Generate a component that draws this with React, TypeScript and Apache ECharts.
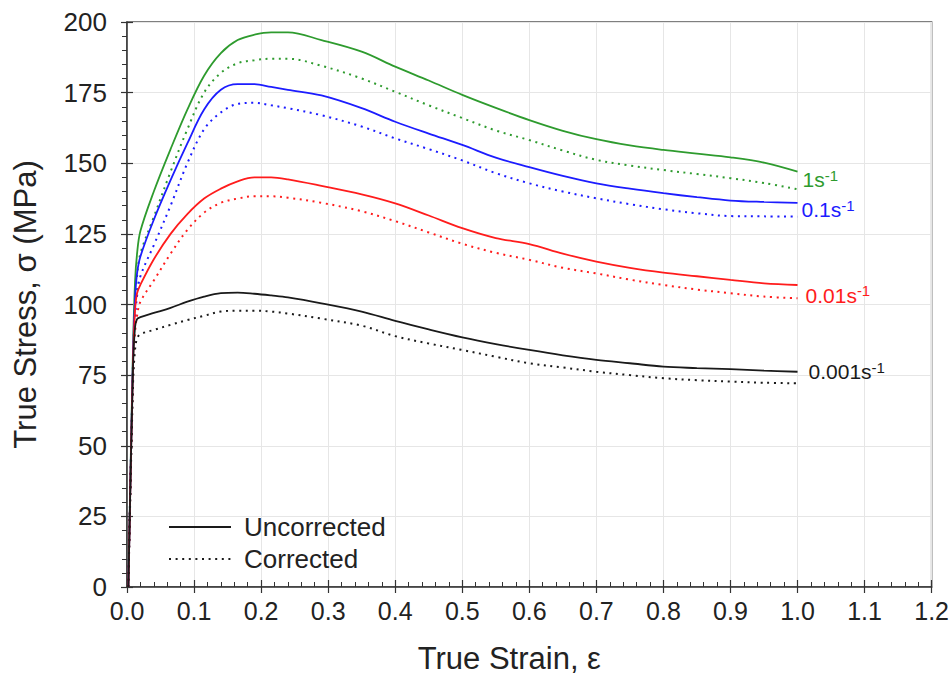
import React, { useEffect, useRef } from "react";
import * as echarts from "echarts";

const strain = [0.002, 0.009, 0.012, 0.015, 0.02, 0.04, 0.065, 0.09, 0.115, 0.14, 0.165, 0.19, 0.215, 0.24, 0.29, 0.35, 0.4, 0.45, 0.5, 0.55, 0.6, 0.65, 0.7, 0.75, 0.8, 0.85, 0.9, 0.95, 1.0];

const rate1Uncorrected = [0, 85, 108, 118, 126, 140, 155, 169, 181, 189, 193.6, 195.5, 196.3, 196.3, 193.6, 189.5, 184.2, 179.3, 174.2, 169.6, 165.3, 161.5, 158.5, 156.3, 154.7, 153.4, 152.1, 150.2, 147];
const rate1Corrected = [0, 80, 100, 110, 118, 131, 147, 162, 175, 182, 185.4, 186.5, 187, 187, 184.5, 180, 175.3, 170.5, 166, 161.6, 158.2, 154.5, 151.2, 149.2, 147.6, 146.2, 144.7, 143, 140.8];
const rate01Uncorrected = [0, 82, 102, 111, 117, 130, 144, 157, 169, 176, 178, 178, 177, 176, 174, 169.5, 164.7, 160.5, 156.5, 152, 148.6, 145.5, 142.9, 141, 139.4, 138, 136.8, 136.3, 136];
const rate01Corrected = [0, 78, 95, 103, 110, 121, 135, 150, 162, 168, 171, 171.4, 170.5, 169.5, 167, 163, 158.8, 155, 151, 146.5, 142.9, 140, 137.6, 135.5, 133.7, 132.3, 131.3, 131.2, 131.1];
const rate001Uncorrected = [0, 80, 98, 104, 107, 116, 125, 132, 137.5, 141, 143.6, 145, 145, 144.3, 142, 139, 135.8, 131.5, 127, 123.5, 121.4, 118, 115.2, 113, 111.3, 110, 108.7, 107.5, 106.9];
const rate001Corrected = [0, 75, 90, 96, 101, 108.5, 118, 126.4, 132.5, 136, 137.5, 138.3, 138.3, 137.8, 136, 133, 129.5, 125.5, 121.5, 118.3, 115.8, 113, 111, 108.8, 106.9, 105.3, 104, 102.8, 102.2];
const rate0001Uncorrected = [0, 78, 92, 94.8, 95.5, 97, 98.8, 101, 102.8, 104, 104.2, 103.8, 103.2, 102.5, 100.4, 97.5, 94.2, 91.2, 88.4, 86, 83.9, 82, 80.4, 79.2, 78, 77.5, 77.1, 76.6, 76.2];
const rate0001Corrected = [0, 72, 84, 88, 89.5, 91, 92.8, 94.5, 96, 97.5, 97.8, 97.8, 97.5, 96.8, 95, 92.5, 88.8, 86.2, 83.9, 81.5, 79.2, 77.7, 76.2, 75, 73.9, 73.2, 72.7, 72.3, 72.1];

const rateLabels = ["1", "0.1", "0.01", "0.001"];
const legendNames = ["Uncorrected", "Corrected"];
const xTicks = { min: 0, max: 1.2, interval: 0.1 };
const yTicks = { min: 0, max: 200, interval: 25 };

const FONT = "Liberation Sans, Arial, sans-serif";
const GREEN = "#2e9b2e";
const BLUE = "#1c1cff";
const RED = "#ff1c1c";
const BLACK = "#1a1a1a";

function pair(vals: number[]) {
  return strain.map((s, i) => [s, vals[i]]);
}

export default function App() {
  const ref = useRef<HTMLDivElement>(null);
  useEffect(() => {
    if (!ref.current) return;
    const chart = echarts.init(ref.current, undefined, { renderer: "svg" });

    const dotted = [2, 4.6];
    const mk = (name: string, vals: number[], color: string, isDotted: boolean, label?: { text: string; off: [number, number] }) => {
      const s: any = {
        name,
        type: "line",
        data: pair(vals),
        symbol: "none",
        smooth: 0.35,
        xAxisIndex: 0,
        yAxisIndex: 0,
        lineStyle: { color, width: isDotted ? 2 : 1.8, type: isDotted ? dotted : "solid" },
        itemStyle: { color },
        z: 5,
      };
      if (label) {
        s.endLabel = {
          show: true,
          distance: 5,
          offset: label.off,
          formatter: () => `{a|${label.text}s}{b|-1}`,
          rich: {
            a: { fontFamily: FONT, fontSize: 21, color, lineHeight: 24 },
            b: { fontFamily: FONT, fontSize: 15, color, verticalAlign: "top", lineHeight: 15, padding: [0, 0, 10, 0] },
          },
        };
      }
      return s;
    };

    const series: any[] = [
      mk("s1u", rate1Uncorrected, GREEN, false, { text: rateLabels[0], off: [0, 8] }),
      mk("s1c", rate1Corrected, GREEN, true),
      mk("s01u", rate01Uncorrected, BLUE, false, { text: rateLabels[1], off: [-1, 7] }),
      mk("s01c", rate01Corrected, BLUE, true),
      mk("s001u", rate001Uncorrected, RED, false, { text: rateLabels[2], off: [3, 10] }),
      mk("s001c", rate001Corrected, RED, true),
      mk("s0001u", rate0001Uncorrected, BLACK, false, { text: rateLabels[3], off: [6, 0] }),
      mk("s0001c", rate0001Corrected, BLACK, true),
      {
        name: legendNames[0],
        type: "line",
        data: [],
        symbol: "none",
        lineStyle: { color: BLACK, width: 1.8, type: "solid" },
        itemStyle: { color: BLACK, opacity: 0 },
      },
      {
        name: legendNames[1],
        type: "line",
        data: [],
        symbol: "none",
        lineStyle: { color: BLACK, width: 2, type: dotted },
        itemStyle: { color: BLACK, opacity: 0 },
      },
    ];

    const axisColor = "#333";
    chart.setOption({
      animation: false,
      backgroundColor: "#fff",
      textStyle: { fontFamily: FONT },
      grid: { left: 127, right: 20, top: 22, bottom: 109, show: true, borderColor: "#555", borderWidth: 1.5, backgroundColor: "transparent" },
      legend: {
        data: legendNames,
        orient: "vertical",
        left: 163,
        top: 509,
        itemWidth: 62,
        itemHeight: 14,
        itemGap: 6,
        itemStyle: { opacity: 0 },
        textStyle: { fontFamily: FONT, fontSize: 26, color: "#222", padding: [0, 0, 0, 8] },
      },
      xAxis: [
        {
          type: "value",
          ...xTicks,
          position: "bottom",
          name: "True Strain, ε",
          nameLocation: "middle",
          nameGap: 56,
          nameTextStyle: { fontFamily: FONT, fontSize: 31, color: "#222", padding: [0, 40, 0, 0] },
          axisLine: { show: true, onZero: false, lineStyle: { color: axisColor, width: 1.5 } },
          axisTick: { show: true, inside: true, length: 7, lineStyle: { color: axisColor, width: 1.2 } },
          minorTick: { show: true, splitNumber: 5, length: 5, lineStyle: { color: axisColor, width: 1 } },
          axisLabel: { fontFamily: FONT, fontSize: 25, color: "#222", margin: 11, formatter: (v: number) => v.toFixed(1) },
          splitLine: { show: true, lineStyle: { color: "#e6e6e6", width: 1 } },
        },
        {
          type: "value",
          ...xTicks,
          position: "bottom",
          axisLine: { show: false },
          axisTick: { show: true, inside: false, length: 6, lineStyle: { color: axisColor, width: 1.2 } },
          axisLabel: { show: false },
          splitLine: { show: false },
        },
      ],
      yAxis: [
        {
          type: "value",
          ...yTicks,
          position: "left",
          name: "True Stress, σ (MPa)",
          nameLocation: "middle",
          nameGap: 86,
          nameTextStyle: { fontFamily: FONT, fontSize: 31, color: "#222" },
          axisLine: { show: true, onZero: false, lineStyle: { color: axisColor, width: 1.5 } },
          axisTick: { show: true, inside: false, length: 6, lineStyle: { color: axisColor, width: 1.2 } },
          minorTick: { show: true, splitNumber: 5, length: 5, lineStyle: { color: axisColor, width: 1 } },
          axisLabel: { fontFamily: FONT, fontSize: 26, color: "#222", margin: 20 },
          splitLine: { show: true, lineStyle: { color: "#e6e6e6", width: 1 } },
        },
        {
          type: "value",
          ...yTicks,
          position: "left",
          axisLine: { show: false },
          axisTick: { show: true, inside: true, length: 6, lineStyle: { color: axisColor, width: 1.2 } },
          axisLabel: { show: false },
          splitLine: { show: false },
        },
      ],
      series,
    });
    return () => chart.dispose();
  }, []);
  return <div ref={ref} style={{ position: "fixed", left: 0, top: 0, width: 952, height: 696 }} />;
}
